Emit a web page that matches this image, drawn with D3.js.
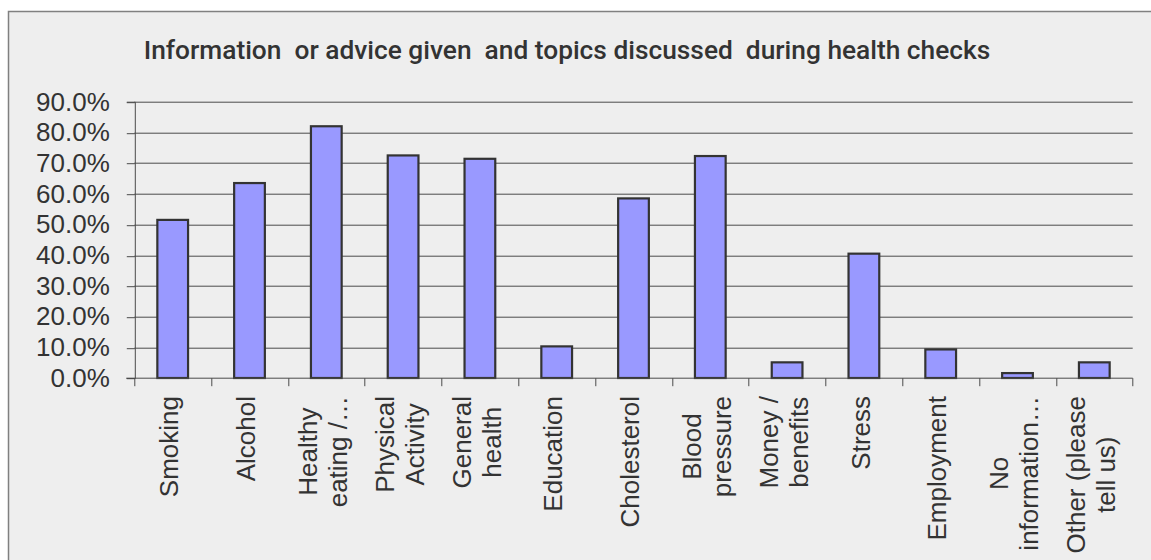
<!DOCTYPE html>
<html>
<head>
<meta charset="utf-8">
<script src="https://cdn.jsdelivr.net/npm/d3@7"></script>
<style>
  body { margin: 0; background: #ffffff; }
  svg { display: block; }
</style>
</head>
<body>
<div id="chart"></div>
<script>
// chart data
const categories = ["Smoking", "Alcohol", "Healthy eating", "Physical Activity", "General health",
    "Education", "Cholesterol", "Blood pressure", "Money / benefits", "Stress",
    "Employment", "No information", "Other (please tell us)"];
const labelLines = [["Smoking"], ["Alcohol"], ["Healthy", "eating /\u2026"], ["Physical", "Activity"],
    ["General", "health"], ["Education"], ["Cholesterol"], ["Blood", "pressure"],
    ["Money /", "benefits"], ["Stress"], ["Employment"], ["No", "information\u2026"],
    ["Other (please", "tell us)"]];
const values = [51.5, 63.5, 82.0, 72.5, 71.4, 10.3, 58.5, 72.3, 5.1, 40.5, 9.3, 1.6, 5.1];
const yTicks = [0, 10, 20, 30, 40, 50, 60, 70, 80, 90];
const title = "Information\u00a0 or advice given\u00a0 and topics discussed\u00a0 during health checks";

const W = 1151, H = 560;
const margin = {top: 101.7, left: 134.3, right: 18.3, bottom: 182};
const plotW = W - margin.left - margin.right;
const plotH = H - margin.top - margin.bottom;

const svg = d3.select("#chart").append("svg")
    .attr("width", W)
    .attr("height", H);

// chart area background with border
svg.append("rect")
    .attr("x", 8.5).attr("y", 11.5)
    .attr("width", W + 10).attr("height", H + 10)
    .attr("fill", "#eeeeee")
    .attr("stroke", "#808080")
    .attr("stroke-width", 1.5);

svg.append("text")
    .attr("x", 567)
    .attr("y", 59)
    .attr("text-anchor", "middle")
    .attr("font-family", "Roboto, sans-serif")
    .attr("font-weight", 500)
    .attr("font-size", 26.3)
    .attr("fill", "#333333")
    .text(title);

const g = svg.append("g")
    .attr("transform", `translate(${margin.left},${margin.top})`);

// scales
const x = d3.scaleBand()
    .domain(categories)
    .range([0, plotW])
    .padding(0);

const y = d3.scaleLinear()
    .domain([0, 90])
    .range([plotH, 0]);

// gridlines
g.append("g")
    .selectAll("line")
    .data(yTicks.slice(1))
    .join("line")
    .attr("x1", 0)
    .attr("x2", plotW)
    .attr("y1", d => Math.round(y(d)) + 0.5)
    .attr("y2", d => Math.round(y(d)) + 0.5)
    .attr("stroke", "#4a4a4a")
    .attr("stroke-width", 1);

// y axis
const yAxis = d3.axisLeft(y)
    .tickValues(yTicks)
    .tickSize(8)
    .tickPadding(17)
    .tickFormat(d => d.toFixed(1) + "%");

const yg = g.append("g")
    .attr("transform", "translate(0.5,0)")
    .call(yAxis);
yg.select(".domain").attr("stroke", "#4a4a4a");
yg.selectAll(".tick line").attr("stroke", "#4a4a4a")
    .attr("transform", d => `translate(0,${Math.round(y(d)) + 0.5 - y(d)})`);
yg.selectAll(".tick text")
    .attr("font-family", "'Liberation Sans', Arial, sans-serif")
    .attr("font-size", 26)
    .attr("fill", "#333333");

// bars
g.append("g")
    .selectAll("rect")
    .data(values)
    .join("rect")
    .attr("x", (d, i) => x(categories[i]) + x.bandwidth() * 0.3)
    .attr("width", x.bandwidth() * 0.4)
    .attr("y", d => y(d))
    .attr("height", d => y(0) - y(d))
    .attr("fill", "#9999ff")
    .attr("stroke", "#333333")
    .attr("stroke-width", 2.2);

// x axis line and ticks at category boundaries
const xg = g.append("g");
const baseY = Math.round(plotH) + 0.5;
xg.append("line")
    .attr("x1", -8).attr("x2", plotW)
    .attr("y1", baseY).attr("y2", baseY)
    .attr("stroke", "#4a4a4a");
xg.selectAll(".xtick")
    .data(categories.map(c => x(c)).concat([plotW]))
    .join("line")
    .attr("class", "xtick")
    .attr("x1", d => Math.round(d) + 0.5)
    .attr("x2", d => Math.round(d) + 0.5)
    .attr("y1", baseY)
    .attr("y2", baseY + 8)
    .attr("stroke", "#4a4a4a");

// rotated category labels, lines centred on each other, top aligned
const lineH = 30;
const labelTop = 396 - margin.top;
const labels = g.append("g")
    .selectAll("g")
    .data(labelLines)
    .join("g")
    .attr("font-family", "'Liberation Sans', Arial, sans-serif")
    .attr("font-size", 26)
    .attr("fill", "#333333");

labels.each(function(lines, i) {
    const grp = d3.select(this);
    const texts = grp.selectAll("text")
        .data(lines)
        .join("text")
        .attr("text-anchor", "middle")
        .attr("dy", "0.22em")
        .attr("y", (d, j) => (j - (lines.length - 1) / 2) * lineH)
        .text(d => d);
    let maxLen = 0;
    texts.each(function() { maxLen = Math.max(maxLen, this.getComputedTextLength()); });
    texts.attr("x", -maxLen / 2);
    const cx = x(categories[i]) + x.bandwidth() / 2;
    grp.attr("transform", `translate(${cx},${labelTop}) rotate(-90)`);
});
</script>
</body>
</html>
